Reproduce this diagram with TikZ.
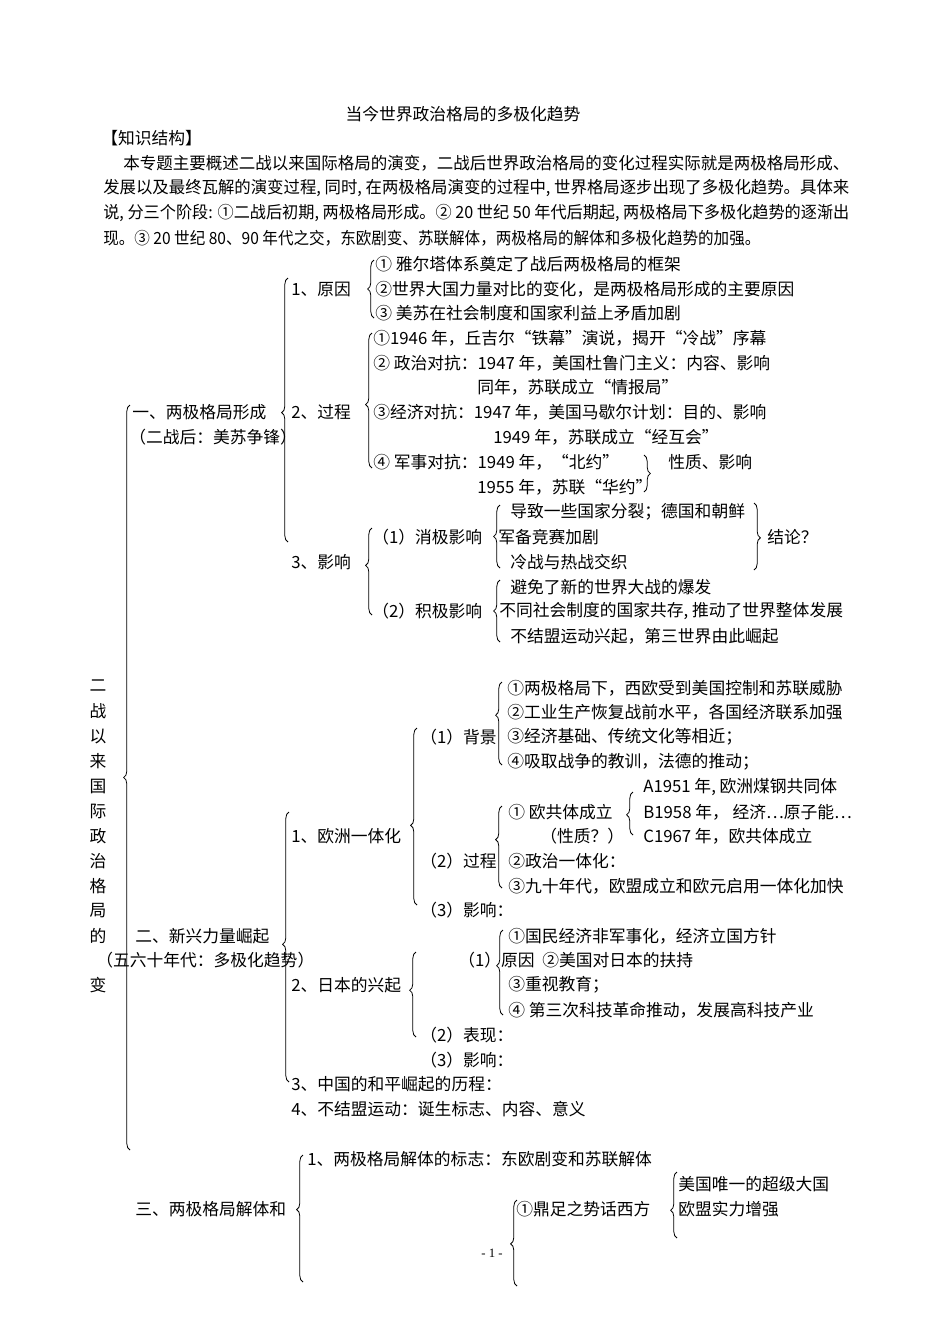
\documentclass[tikz,border=0pt]{standalone}
\usepackage{graphicx}
\usepackage{fontspec}
\setmainfont{Noto Sans CJK SC}
\newfontfamily\pgfont{Liberation Serif}
\usetikzlibrary{decorations.pathreplacing}
% intro lines are set to the justified width of the page
\newcommand{\fitline}[2]{\resizebox{#1}{\height}{#2}}

\begin{document}
\begin{tikzpicture}[x=0.6263pt, y=-0.6263pt,
   txt/.style={anchor=west, inner sep=0pt, font=\fontsize{10.5}{12}\selectfont},
   brc/.style={decorate, decoration={brace, amplitude=4pt, aspect=#1}, line width=0.5pt},
   brc/.default=0.5]
  \path[use as bounding box, fill=white] (0,0) rectangle (950,1344);

  % heading and introduction
  \node[txt, anchor=center] (title) at (463,114) {当今世界政治格局的多极化趋势};
  \node[txt] (head) at (101,138) {【知识结构】};
  \node[txt] (intro1) at (123,163) {\fitline{454.7pt}{本专题主要概述二战以来国际格局的演变，二战后世界政治格局的变化过程实际就是两极格局形成、}};
  \node[txt] (intro2) at (103,188) {\fitline{467.2pt}{发展以及最终瓦解的演变过程, 同时, 在两极格局演变的过程中, 世界格局逐步出现了多极化趋势。具体来}};
  \node[txt] (intro3) at (103,213) {\fitline{467.2pt}{说, 分三个阶段: ①二战后初期, 两极格局形成。② 20 世纪 50 年代后期起, 两极格局下多极化趋势的逐渐出}};
  \node[txt] (intro4) at (103,238) {\fitline{411.5pt}{现。③ 20 世纪 80、90 年代之交，东欧剧变、苏联解体，两极格局的解体和多极化趋势的加强。}};

  % vertical title
  \foreach \c [count=\i] in {二,战,以,来,国,际,政,治,格,局,的}
    \node[txt, anchor=center] (v\i) at (98,661+25*\i) {\c};
  \node[txt, anchor=center] (v12) at (98,985) {变};

  % part one
  \node[txt] (one) at (132,412) {一、两极格局形成};
  \node[txt] (oneb) at (129,437) {（二战后：美苏争锋）};
  \node[txt] (cause) at (291,289) {1、原因};
  \node[txt] (cause1) at (375,264) {① 雅尔塔体系奠定了战后两极格局的框架};
  \node[txt] (cause2) at (375,289) {②世界大国力量对比的变化，是两极格局形成的主要原因};
  \node[txt] (cause3) at (375,313) {③ 美苏在社会制度和国家利益上矛盾加剧};
  \node[txt] (proc) at (291,412) {2、过程};
  \node[txt] (proc1) at (373,338) {①1946 年，丘吉尔“铁幕”演说，揭开“冷战”序幕};
  \node[txt] (proc2) at (373,363) {② 政治对抗：1947 年，美国杜鲁门主义：内容、影响};
  \node[txt] (proc2b) at (477,387) {同年，苏联成立“情报局”};
  \node[txt] (proc3) at (373,412) {③经济对抗：1947 年，美国马歇尔计划：目的、影响};
  \node[txt] (proc3b) at (493,437) {1949 年，苏联成立“经互会”};
  \node[txt] (proc4) at (373,462) {④ 军事对抗：1949 年，“北约”};
  \node[txt] (proc4b) at (477,487) {1955 年，苏联“华约”};
  \node[txt] (nature) at (668,462) {性质、影响};
  \node[txt] (eff) at (291,562) {3、影响};
  \node[txt] (neg) at (372,537) {（1）消极影响};
  \node[txt] (neg1) at (510,512) {导致一些国家分裂；德国和朝鲜};
  \node[txt] (neg2) at (498,537) {军备竞赛加剧};
  \node[txt] (neg3) at (510,562) {冷战与热战交织};
  \node[txt] (concl) at (767,537) {结论？};
  \node[txt] (pos) at (372,611) {（2）积极影响};
  \node[txt] (pos1) at (510,587) {避免了新的世界大战的爆发};
  \node[txt] (pos2) at (499,611) {不同社会制度的国家共存, 推动了世界整体发展};
  \node[txt] (pos3) at (510,636) {不结盟运动兴起，第三世界由此崛起};

  % part two
  \node[txt] (two) at (135,936) {二、新兴力量崛起};
  \node[txt] (twob) at (96,960) {（五六十年代：多极化趋势）};
  \node[txt] (eu) at (291,836) {1、欧洲一体化};
  \node[txt] (eubg) at (420,737) {（1）背景};
  \node[txt] (eubg1) at (507,688) {①两极格局下，西欧受到美国控制和苏联威胁};
  \node[txt] (eubg2) at (507,712) {②工业生产恢复战前水平，各国经济联系加强};
  \node[txt] (eubg3) at (507,737) {③经济基础、传统文化等相近；};
  \node[txt] (eubg4) at (507,762) {④吸取战争的教训，法德的推动；};
  \node[txt] (eupr) at (420,861) {（2）过程};
  \node[txt] (eupr1) at (508,812) {① 欧共体成立};
  \node[txt] (eupr1b) at (540,836) {（性质？）};
  \node[txt] (euA) at (643,787) {A1951 年, 欧洲煤钢共同体};
  \node[txt] (euB) at (643,812) {B1958 年，\ 经济⋯原子能⋯};
  \node[txt] (euC) at (643,836) {C1967 年，欧共体成立};
  \node[txt] (eupr2) at (508,861) {②政治一体化：};
  \node[txt] (eupr3) at (508,886) {③九十年代，欧盟成立和欧元启用一体化加快};
  \node[txt] (euef) at (420,910) {（3）影响：};
  \node[txt] (jp) at (291,985) {2、日本的兴起};
  \node[txt] (jpca) at (458,960) {（1）原因};
  \node[txt] (jpca1) at (508,936) {①国民经济非军事化，经济立国方针};
  \node[txt] (jpca2) at (542,960) {②美国对日本的扶持};
  \node[txt] (jpca3) at (508,985) {③重视教育；};
  \node[txt] (jpca4) at (508,1010) {④ 第三次科技革命推动，发展高科技产业};
  \node[txt] (jpsh) at (420,1035) {（2）表现：};
  \node[txt] (jpef) at (420,1060) {（3）影响：};
  \node[txt] (cn) at (291,1084) {3、中国的和平崛起的历程：};
  \node[txt] (nam) at (291,1109) {4、不结盟运动：诞生标志、内容、意义};

  % part three
  \node[txt] (three) at (135,1209) {三、两极格局解体和};
  \node[txt] (end1) at (307,1159) {1、两极格局解体的标志：东欧剧变和苏联解体};
  \node[txt] (tri) at (516,1209) {①鼎足之势话西方};
  \node[txt] (tri1) at (678,1184) {美国唯一的超级大国};
  \node[txt] (tri2) at (678,1209) {欧盟实力增强};
  \node[anchor=center, inner sep=0pt, font=\pgfont\fontsize{8}{9}\selectfont] (page) at (492,1253) {- 1 -};

  % braces
  \draw[brc=0.50] (130,1150) -- (130,405);
  \draw[brc=0.49] (288,542) -- (288,278);
  \draw[brc] (374,318) -- (374,260);
  \draw[brc=0.47] (372,468) -- (372,333);
  \draw[brc] (644,455) -- (644,492);
  \draw[brc=0.57] (372,615) -- (372,528);
  \draw[brc] (500,568) -- (500,505);
  \draw[brc=0.52] (754,503) -- (754,570);
  \draw[brc] (500,642) -- (500,580);
  \draw[brc=0.51] (289,1082) -- (289,812);
  \draw[brc=0.45] (417,905) -- (417,728);
  \draw[brc=0.60] (502,765) -- (502,682);
  \draw[brc=0.59] (502,888) -- (502,806);
  \draw[brc=0.47] (633,835) -- (633,792);
  \draw[brc=0.55] (416,1037) -- (416,952);
  \draw[brc=0.58] (503,1015) -- (503,930);
  \draw[brc=0.57] (303,1282) -- (303,1155);
  \draw[brc=0.49] (517,1286) -- (517,1200);
  \draw[brc=0.42] (677,1238) -- (677,1172);
\end{tikzpicture}
\end{document}
